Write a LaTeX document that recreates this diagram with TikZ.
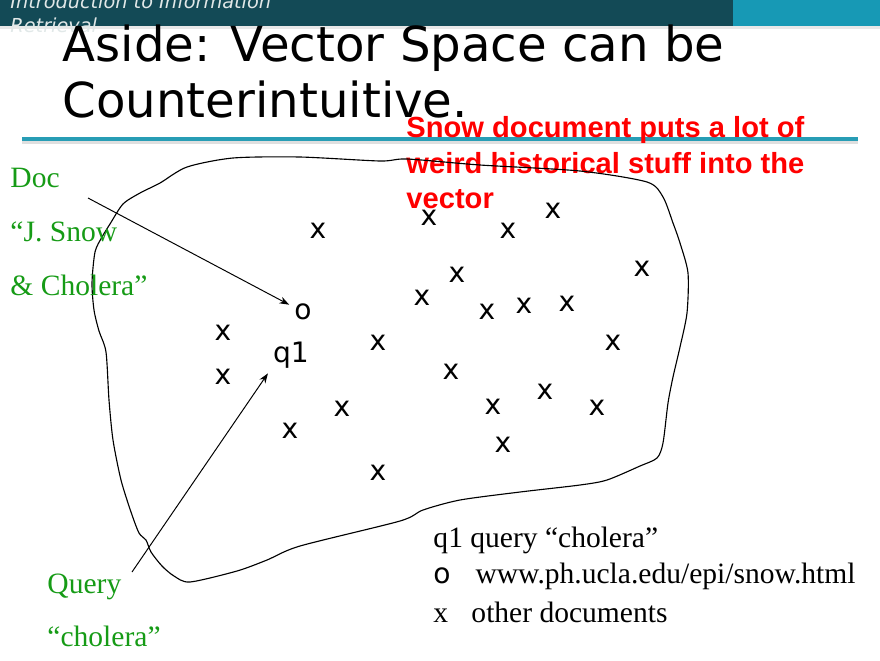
\documentclass[tikz,border=0pt]{standalone}
\usepackage{fontspec}
\setmainfont{Liberation Serif}
\newfontfamily\dejavu{DejaVu Sans}[ItalicFont={DejaVu Sans Oblique}]
\newfontfamily\arial{Liberation Sans}
\usepackage[dvipsnames]{xcolor}
\usetikzlibrary{arrows.meta}

\definecolor{bardark}{RGB}{19,74,86}
\definecolor{barlight}{RGB}{23,153,181}
\definecolor{ruleteal}{RGB}{40,157,181}
\definecolor{docgreen}{RGB}{22,155,22}
\definecolor{headgray}{RGB}{225,232,232}

\begin{document}
\begin{tikzpicture}[x=0.025cm,y=-0.025cm,>={Stealth[length=7pt,width=5pt]},line width=0.7pt,
    mark node/.style={font=\dejavu\fontsize{20}{24}\selectfont},
    line text/.style={anchor=base west,inner sep=0pt},
    green text/.style={line text,text=docgreen,font=\fontsize{21}{24}\selectfont},
    legend text/.style={line text,font=\fontsize{21}{24}\selectfont}]

    \useasboundingbox (0,0) rectangle (880,660);

    % header bar and rule
    \fill[bardark] (0,0) rectangle (733,26);
    \fill[barlight] (733,0) rectangle (880,26);
    \fill[gray!18] (0,26) rectangle (880,29);
    \fill[gray!25] (22,140) rectangle (858,144);
    \fill[ruleteal] (22,137) rectangle (858,141);

    \node[line text,text=headgray,font=\dejavu\itshape\fontsize{13.7}{16}\selectfont] (course1) at (10,8.5) {Introduction to Information};
    \node[line text,text=headgray,font=\dejavu\itshape\fontsize{13.7}{16}\selectfont] (course2) at (10,32) {Retrieval};

    \node[line text,font=\dejavu\fontsize{34.3}{40}\selectfont] (title1) at (62,61) {Aside: Vector Space can be};
    \node[line text,font=\dejavu\fontsize{34.3}{40}\selectfont] (title2) at (62,117) {Counterintuitive.};

    % red note
    \node[line text,text=red,font=\arial\bfseries\fontsize{20.7}{24}\selectfont] (note1) at (406,137) {Snow document puts a lot of};
    \node[line text,text=red,font=\arial\bfseries\fontsize{20.7}{24}\selectfont] (note2) at (406,173) {weird historical stuff into the};
    \node[line text,text=red,font=\arial\bfseries\fontsize{20.7}{24}\selectfont] (note3) at (406,208) {vector};

    % the space
    \draw[line width=0.8pt] plot[smooth cycle,tension=0.45] coordinates {
        (300,157) (380,161) (407,159) (480,165) (580,171) (647,182) (663,197)
        (673,223) (680,243) (688,273) (687,313) (680,347) (673,377) (668,403)
        (663,443) (657,458) (640,466) (607,480) (580,485) (520,492) (460,500)
        (423,510) (400,521) (300,546) (267,560) (237,571) (190,582) (174,576)
        (162,566) (151,552) (146,540) (139,533) (131,512) (121,480) (113,440)
        (109,400) (106,352) (99,331) (94,310) (92,283) (95,252) (102,237)
        (110,224) (123,204) (140,193) (160,183) (187,167) (233,158)};

    \node[mark node] (d1) at (318,231) {x};
    \node[mark node] (d2) at (429,218) {x};
    \node[mark node] (d3) at (508,231) {x};
    \node[mark node] (d4) at (553,211) {x};
    \node[mark node] (d5) at (642,269) {x};
    \node[mark node] (d6) at (457,275) {x};
    \node[mark node] (d7) at (422,298) {x};
    \node[mark node] (d8) at (487,312) {x};
    \node[mark node] (d9) at (524,306) {x};
    \node[mark node] (d10) at (567,304) {x};
    \node[mark node] (d11) at (223,333) {x};
    \node[mark node] (d12) at (378,343) {x};
    \node[mark node] (d13) at (613,343) {x};
    \node[mark node] (d14) at (223,377) {x};
    \node[mark node] (d15) at (451,372) {x};
    \node[mark node] (d16) at (545,392) {x};
    \node[mark node] (d17) at (342,409) {x};
    \node[mark node] (d18) at (493,407) {x};
    \node[mark node] (d19) at (597,408) {x};
    \node[mark node] (d20) at (290,431) {x};
    \node[mark node] (d21) at (503,445) {x};
    \node[mark node] (d22) at (378,473) {x};

    \node[mark node] (snow) at (303,312) {o};
    \node[mark node] (query) at (291,355) {q1};

    % green labels
    \node[green text] (doc1) at (10,187) {Doc};
    \node[green text] (doc2) at (10,241) {“J. Snow};
    \node[green text] (doc3) at (10,295) {\& Cholera”};
    \node[green text] (query1) at (47,593) {Query};
    \node[green text] (query2) at (47,646) {“cholera”};

    \coordinate (docfrom) at (88,198);
    \coordinate (queryfrom) at (132,572);

    \path[->]
        (docfrom) edge (snow)
        (queryfrom) edge (query.south west)
        ;

    % legend
    \node[legend text] (leg1) at (433,547) {q1 query “cholera”};
    \node[line text,font=\dejavu\fontsize{20}{24}\selectfont] (leg2) at (433,583) {o};
    \node[legend text] (leg2url) at (475,583) {www.ph.ucla.edu/epi/snow.html};
    \node[legend text] (leg3) at (433,622) {x};
    \node[legend text] (leg3text) at (471,622) {other documents};
\end{tikzpicture}
\end{document}
